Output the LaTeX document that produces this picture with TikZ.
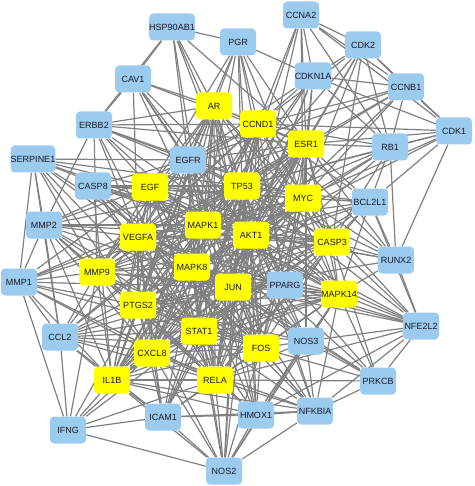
\documentclass[tikz,border=0pt]{standalone}
\usepackage{fontspec}
\setmainfont{Liberation Sans}
\pgfdeclarelayer{edges}
\pgfsetlayers{edges,main}
\definecolor{nodeblue}{RGB}{155,203,238}
\definecolor{nodeyellow}{RGB}{255,255,0}
\definecolor{edgegray}{RGB}{128,128,128}
\definecolor{labeltext}{RGB}{25,25,40}
\tikzset{
  gene/.style={rounded corners=4pt, minimum width=36pt, minimum height=27pt, inner sep=0pt,
    font=\fontsize{9}{10}\selectfont, text=labeltext},
  bnode/.style={gene, fill=nodeblue},
  ynode/.style={gene, fill=nodeyellow},
  link/.style={draw=edgegray, line width=1.2pt}
}
\begin{document}
\begin{tikzpicture}[x=1pt,y=-1pt]
\useasboundingbox (0,0) rectangle (474,486);
% blue nodes
\foreach \n/\px/\py in {HSP90AB1/172/27, PGR/238/42, CCNA2/301/15, CDK2/363/45, CDKN1A/313/76,
  CCNB1/406/87, CDK1/454/131, CAV1/133/79, ERBB2/94/125, RB1/390/147, SERPINE1/33/159,
  EGFR/188/160, CASP8/93/186, BCL2L1/370/202, MMP2/44/225, RUNX2/396/260, MMP1/19/282,
  PPARG/285/285, CCL2/60/337, NFE2L2/421/326, NOS3/306/341, PRKCB/378/381, ICAM1/163/417,
  HMOX1/256/415, NFKBIA/315/411, IFNG/68/430, NOS2/224/471}
  \node[bnode] (\n) at (\px,\py) {\n};
% yellow nodes
\foreach \n/\px/\py in {AR/214/106, CCND1/258/124, ESR1/306/144, EGF/150/187, TP53/242/186,
  MYC/303/198, VEGFA/138/237, MAPK1/203/225, AKT1/251/235, CASP3/332/242, MMP9/97/272,
  MAPK8/192/267, JUN/233/287, MAPK14/339/294, PTGS2/138/305, STAT1/199/331, CXCL8/152/353,
  FOS/261/348, IL1B/112/380, RELA/215/380}
  \node[ynode] (\n) at (\px,\py) {\n};
\begin{pgfonlayer}{edges}
% core: all yellow pairs
\foreach \a [count=\i] in {AR,CCND1,ESR1,EGF,TP53,MYC,VEGFA,MAPK1,AKT1,CASP3,MMP9,MAPK8,JUN,MAPK14,PTGS2,STAT1,CXCL8,FOS,IL1B,RELA}
  \foreach \b [count=\j] in {AR,CCND1,ESR1,EGF,TP53,MYC,VEGFA,MAPK1,AKT1,CASP3,MMP9,MAPK8,JUN,MAPK14,PTGS2,STAT1,CXCL8,FOS,IL1B,RELA}
    {\ifnum\j>\i \draw[link] (\a) -- (\b);\fi}
% peripheral nodes
\foreach \a/\nb in {
  HSP90AB1/{PGR,CAV1,AR,EGFR,ESR1,TP53,AKT1,MAPK1,ERBB2},
  PGR/{AR,ESR1,CCND1,EGFR,TP53,AKT1,MAPK1,MYC,PPARG,CDKN1A,EGF},
  CCNA2/{CDK2,CDKN1A,CCNB1,CDK1,CCND1,TP53,MYC,RB1,ESR1,AKT1},
  CDK2/{CDKN1A,CCNB1,CDK1,RB1,CCND1,TP53,MYC,ESR1,AKT1,CASP3},
  CDKN1A/{CCNB1,CDK1,CCND1,TP53,MYC,AKT1,ESR1,RB1,MAPK1,JUN,EGFR},
  CCNB1/{CDK1,RB1,TP53,CCND1,MYC,ESR1,AKT1,EGFR},
  CDK1/{RB1,TP53,CCND1,BCL2L1,RUNX2,MYC,ESR1,AKT1},
  CAV1/{ERBB2,EGFR,AR,ESR1,AKT1,VEGFA,MAPK1,NOS3,TP53},
  ERBB2/{EGFR,EGF,ESR1,AR,AKT1,MAPK1,TP53,MYC,CCND1,VEGFA,MMP9,MMP2,STAT1},
  SERPINE1/{MMP1,MMP2,MMP9,VEGFA,EGFR,EGF,TP53,AKT1,MAPK1,JUN,STAT1,PTGS2,CCL2},
  EGFR/{AR,CCND1,ESR1,EGF,TP53,MYC,VEGFA,MAPK1,AKT1,CASP3,MMP9,MAPK8,JUN,MAPK14,PTGS2,STAT1,CXCL8,FOS,IL1B,RELA,MMP2,CASP8},
  CASP8/{CASP3,TP53,AKT1,MAPK8,JUN,BCL2L1,RELA,NFKBIA,MAPK1,MYC,STAT1,FOS,IL1B},
  MMP2/{MMP9,MMP1,VEGFA,TP53,AKT1,EGF,PTGS2,CXCL8,IL1B,JUN,FOS,STAT1,MAPK1,CCL2,RELA},
  MMP1/{MMP9,CCL2,IL1B,CXCL8,VEGFA,JUN,FOS,PTGS2,MAPK1,TP53,EGF,IFNG,RELA},
  CCL2/{IL1B,CXCL8,IFNG,ICAM1,STAT1,RELA,MMP9,VEGFA,PTGS2,JUN,AKT1,TP53,MAPK14,MAPK1,FOS},
  IFNG/{IL1B,ICAM1,NOS2,CXCL8,STAT1,RELA,MMP9,PTGS2},
  ICAM1/{IL1B,CXCL8,RELA,STAT1,NFKBIA,HMOX1,NOS2,JUN,AKT1,PTGS2,VEGFA,TP53,MAPK14,MAPK1,FOS},
  NOS2/{HMOX1,NFKBIA,RELA,STAT1,IL1B,PTGS2,JUN,FOS,AKT1,MAPK14,NOS3,CXCL8,TP53,MAPK8},
  HMOX1/{NFKBIA,NFE2L2,RELA,FOS,JUN,AKT1,MAPK14,MAPK8,NOS3,IL1B,PTGS2,TP53,STAT1,MAPK1},
  NFKBIA/{RELA,NOS3,PRKCB,AKT1,JUN,MAPK14,TP53,IL1B,STAT1,CXCL8,NFE2L2,FOS,MAPK8},
  PRKCB/{NFE2L2,MAPK14,NOS3,FOS,AKT1,MAPK1,RELA,JUN,MAPK8,CASP3},
  NFE2L2/{MAPK14,NOS3,CASP3,AKT1,MAPK1,JUN,RUNX2,BCL2L1,TP53,RELA,MYC,MAPK8},
  NOS3/{AKT1,FOS,VEGFA,MAPK14,ESR1,TP53,STAT1,RELA,JUN,MAPK1,PTGS2},
  PPARG/{MAPK14,CASP3,AKT1,JUN,TP53,MYC,ESR1,CCND1,STAT1,RELA,PTGS2,MAPK8,VEGFA,FOS,NFE2L2},
  RUNX2/{CASP3,MAPK14,RB1,MYC,TP53,AKT1,BCL2L1,CCND1,ESR1,MAPK1,JUN},
  BCL2L1/{RB1,CASP3,MYC,TP53,AKT1,MAPK14,ESR1,CCND1,MAPK8,JUN,RELA,STAT1,MAPK1},
  RB1/{CCND1,ESR1,MYC,TP53,AKT1,JUN,MAPK1,CASP3}}
  \foreach \b in \nb {\draw[link] (\a) -- (\b);}
\end{pgfonlayer}
\end{tikzpicture}
\end{document}
